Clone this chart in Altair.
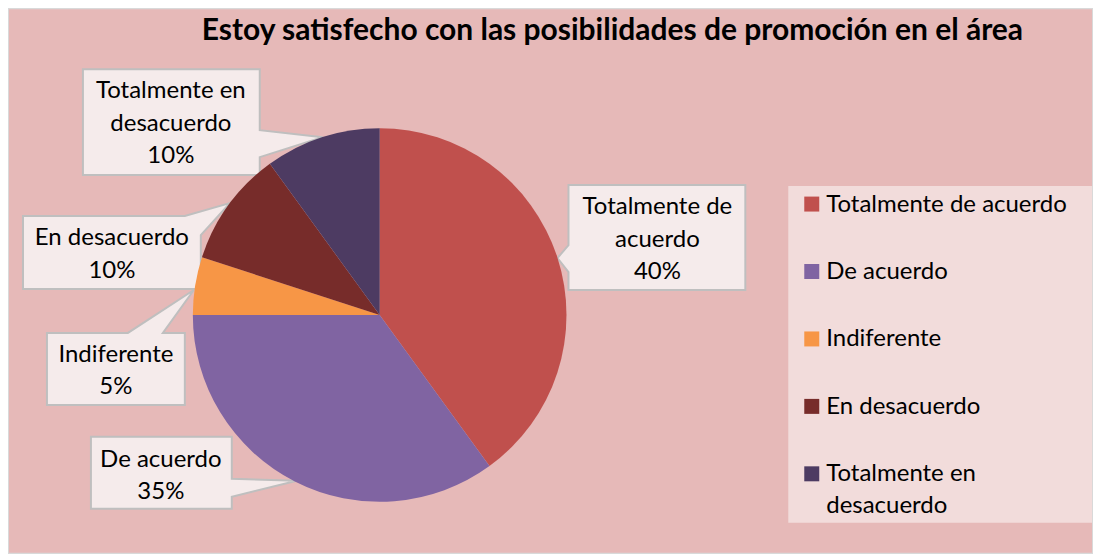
import altair as alt
import pandas as pd

# ---------------- data ----------------
categories = ["Totalmente de acuerdo", "De acuerdo", "Indiferente",
              "En desacuerdo", "Totalmente en desacuerdo"]
values = [40, 35, 5, 10, 10]
colors = ["#C0504D", "#8064A2", "#F79646", "#772C2A", "#4D3B62"]
title_text = "Estoy satisfecho con las posibilidades de promoción en el área"

# ---------------- layout (reference pixel coords) ----------------
OFF = 8
W, H = 1086, 546
PIE_CX, PIE_CY, PIE_R = 380, 315, 187
FONT = "Lato"
FS = 24
wrap = {"Totalmente de acuerdo": "Totalmente de\nacuerdo",
        "Totalmente en desacuerdo": "Totalmente en\ndesacuerdo"}
callouts = {
    "Totalmente de acuerdo": dict(tx=658, ty=214, ring=[(569, 185), (746, 185), (746, 290), (569, 290), (569, 272), (558, 258), (569, 245)]),
    "De acuerdo": dict(tx=161, ty=467, ring=[(91, 437), (232, 437), (232, 479), (297, 481), (232, 497), (232, 509), (91, 509)]),
    "Indiferente": dict(tx=116, ty=362, ring=[(47, 333), (128, 333), (194, 290), (163, 333), (185, 333), (185, 405), (47, 405)]),
    "En desacuerdo": dict(tx=112, ty=245, ring=[(23, 216), (185, 216), (230, 203), (201, 235), (201, 289), (23, 289)]),
    "Totalmente en desacuerdo": dict(tx=171, ty=98, ring=[(83, 69), (260, 69), (260, 130), (323, 137), (260, 157), (260, 175), (83, 175)]),
}
LEG_BOX = (789, 186, 1093, 523)
LEG_SQ_X, LEG_Y0, LEG_DY, LEG_TX = 812.5, 204, 67.5, 827

total = sum(values)
color_scale = alt.Scale(domain=categories, range=colors)

df = pd.DataFrame({"cat": categories, "value": values, "order": range(len(categories))})
df["pct"] = [f"{round(v / total * 100)}%" for v in values]
df["label"] = [wrap.get(c, c) + "\n" + p for c, p in zip(df["cat"], df["pct"])]
df["tx"] = [callouts[c]["tx"] - OFF for c in df["cat"]]
df["ty"] = [callouts[c]["ty"] - OFF for c in df["cat"]]
df["lx"] = LEG_TX - OFF
df["sx"] = LEG_SQ_X - OFF
df["sy"] = [LEG_Y0 + i * LEG_DY - OFF for i in range(len(categories))]
df["ly"] = df["sy"] + 7.5
df["legtext"] = [wrap.get(c, c) if c == "Totalmente en desacuerdo" else c for c in df["cat"]]

features = []
for c in categories:
    ring = [[x - OFF, y - OFF] for x, y in callouts[c]["ring"]]
    ring.append(ring[0])
    features.append({"type": "Feature", "properties": {"cat": c},
                     "geometry": {"type": "Polygon", "coordinates": [ring]}})

dummy = pd.DataFrame({"a": [0]})

callout_layer = alt.Chart(alt.Data(values=features)).mark_geoshape(
    fill="#F5EBEB", stroke="#BFBFBF", strokeWidth=2
).project(type="identity", scale=1, translate=[0, 0])

pie = alt.Chart(df).mark_arc(radius=PIE_R).encode(
    theta=alt.Theta("value:Q", stack=True),
    order=alt.Order("order:Q"),
    color=alt.Color("cat:N", scale=color_scale, legend=None),
    x=alt.value(PIE_CX - OFF),
    y=alt.value(PIE_CY - OFF),
)

labels = alt.Chart(df).mark_text(
    font=FONT, fontSize=FS, lineBreak="\n", lineHeight=32.5,
    align="center", baseline="alphabetic", color="#000000"
).encode(
    x=alt.X("tx:Q", scale=None, axis=None),
    y=alt.Y("ty:Q", scale=None, axis=None),
    text="label:N",
)

leg_box = alt.Chart(dummy).mark_rect(fill="#F2DCDB").encode(
    x=alt.value(LEG_BOX[0] - OFF), x2=alt.value(LEG_BOX[2] - OFF),
    y=alt.value(LEG_BOX[1] - OFF), y2=alt.value(LEG_BOX[3] - OFF),
)

leg_sq = alt.Chart(df).mark_square(size=225, opacity=1).encode(
    x=alt.X("sx:Q", scale=None, axis=None),
    y=alt.Y("sy:Q", scale=None, axis=None),
    color=alt.Color("cat:N", scale=color_scale, legend=None),
)

leg_txt = alt.Chart(df).mark_text(
    font=FONT, fontSize=FS, lineBreak="\n", lineHeight=32,
    align="left", baseline="alphabetic", color="#000000"
).encode(
    x=alt.X("lx:Q", scale=None, axis=None),
    y=alt.Y("ly:Q", scale=None, axis=None),
    text="legtext:N",
)

title = alt.Chart(dummy).mark_text(
    font=FONT, fontSize=30, fontWeight="bold", align="center",
    baseline="alphabetic", color="#000000", text=title_text
).encode(x=alt.value(613 - OFF), y=alt.value(40 - OFF))

chart = alt.layer(
    callout_layer, pie, labels, leg_box, leg_sq, leg_txt, title
).properties(
    width=W, height=H, autosize=alt.AutoSizeParams(type="none"), padding=0
).configure_view(fill="#E6B9B8", stroke="#D9D9D9", strokeWidth=2)

chart.save("out.html", embed_options={"renderer": "svg", "actions": False})
